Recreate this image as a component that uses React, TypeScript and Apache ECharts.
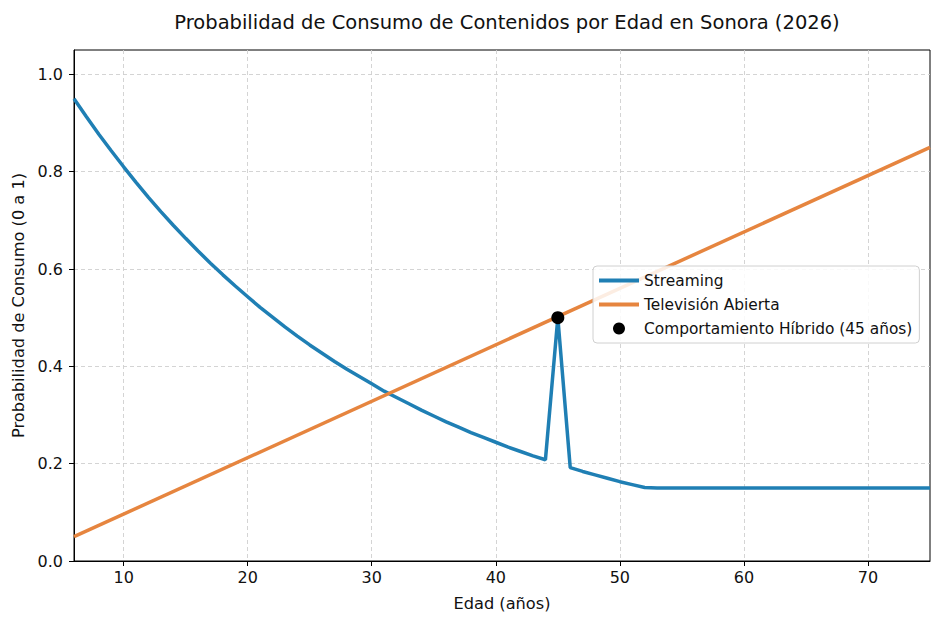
import React, { useEffect, useRef } from "react";
import * as echarts from "echarts";

const ages: number[] = [
  6, 7, 8, 9, 10, 11, 12, 13, 14, 15, 16, 17, 18, 19, 20, 21, 22, 23, 24, 25,
  26, 27, 28, 29, 30, 31, 32, 33, 34, 35, 36, 37, 38, 39, 40, 41, 42, 43, 44,
  45, 46, 47, 48, 49, 50, 51, 52, 53, 54, 55, 56, 57, 58, 59, 60, 61, 62, 63,
  64, 65, 66, 67, 68, 69, 70, 71, 72, 73, 74, 75,
];

const streaming: number[] = [
  0.95, 0.913, 0.877, 0.843, 0.81, 0.778, 0.747, 0.718, 0.69, 0.663, 0.637,
  0.612, 0.588, 0.565, 0.543, 0.521, 0.501, 0.481, 0.462, 0.444, 0.427, 0.41,
  0.394, 0.379, 0.364, 0.349, 0.336, 0.323, 0.31, 0.298, 0.286, 0.275, 0.264,
  0.254, 0.244, 0.234, 0.225, 0.216, 0.208, 0.5, 0.192, 0.184, 0.177, 0.17,
  0.163, 0.157, 0.151, 0.15, 0.15, 0.15, 0.15, 0.15, 0.15, 0.15, 0.15, 0.15,
  0.15, 0.15, 0.15, 0.15, 0.15, 0.15, 0.15, 0.15, 0.15, 0.15, 0.15, 0.15, 0.15,
  0.15,
];

const tvAges: number[] = [6, 75];
const tvValues: number[] = [0.05, 0.85];

const hybridAge: number[] = [45];
const hybridValue: number[] = [0.5];

const xTicks: number[] = [10, 20, 30, 40, 50, 60, 70];
const yTicks: number[] = [0, 0.2, 0.4, 0.6, 0.8, 1.0];

const TITLE = "Probabilidad de Consumo de Contenidos por Edad en Sonora (2026)";
const SERIES_NAMES = [
  "Streaming",
  "Televisión Abierta",
  "Comportamiento Híbrido (45 años)",
];

const BLUE = "#1f7fb4";
const ORANGE = "#e6853f";
const FONT = "DejaVu Sans";
const LINE_ICON = "path://M0,0H40V4H0Z";

export default function App() {
  const ref = useRef<HTMLDivElement>(null);

  useEffect(() => {
    if (!ref.current) return;
    const chart = echarts.init(ref.current, undefined, { renderer: "svg" });
    const textColor = "#111111";
    chart.setOption({
      animation: false,
      backgroundColor: "#ffffff",
      textStyle: { fontFamily: FONT },
      title: {
        text: TITLE,
        left: 502,
        textAlign: "center",
        top: 7,
        textStyle: {
          fontFamily: FONT,
          fontSize: 19.5,
          fontWeight: "normal",
          color: textColor,
        },
      },
      grid: {
        left: 74,
        right: 10,
        top: 50,
        bottom: 62,
        show: true,
        borderColor: "#000",
        borderWidth: 1,
        backgroundColor: "transparent",
      },
      legend: {
        orient: "vertical",
        left: 593,
        top: 266,
        padding: [7, 7, 7, 6],
        itemGap: 9,
        itemWidth: 40,
        itemHeight: 12,
        itemTextGap: 10,
        backgroundColor: "rgba(255,255,255,0.85)",
        borderColor: "#d0d0d0",
        borderWidth: 1,
        borderRadius: 4,
        itemStyle: { borderWidth: 0 },
        textStyle: { fontFamily: FONT, fontSize: 15.4, color: textColor },
        data: [
          { name: SERIES_NAMES[0], icon: LINE_ICON },
          { name: SERIES_NAMES[1], icon: LINE_ICON },
          { name: SERIES_NAMES[2], icon: "circle" },
        ],
      },
      xAxis: {
        type: "value",
        min: 6,
        max: 75,
        name: "Edad (años)",
        nameLocation: "middle",
        nameGap: 34,
        nameTextStyle: { fontFamily: FONT, fontSize: 16.2, color: textColor },
        axisLine: { show: true, lineStyle: { color: "#000", width: 1 } },
        axisTick: {
          show: true,
          inside: false,
          length: 5,
          lineStyle: { color: "#000" },
          customValues: xTicks,
        },
        axisLabel: {
          fontFamily: FONT,
          fontSize: 16,
          color: textColor,
          margin: 8,
          customValues: xTicks,
        },
        splitLine: {
          show: true,
          lineStyle: { color: "#cfcfcf", type: [4, 3], width: 0.9 },
        },
      },
      yAxis: {
        type: "value",
        min: 0,
        max: 1.05,
        name: "Probabilidad de Consumo (0 a 1)",
        nameLocation: "middle",
        nameGap: 46,
        nameTextStyle: { fontFamily: FONT, fontSize: 16.2, color: textColor },
        axisLine: { show: true, lineStyle: { color: "#000", width: 1 } },
        axisTick: {
          show: true,
          inside: false,
          length: 5,
          lineStyle: { color: "#000" },
          customValues: yTicks,
        },
        axisLabel: {
          fontFamily: FONT,
          fontSize: 16,
          color: textColor,
          margin: 11,
          customValues: yTicks,
          formatter: (v: number) => v.toFixed(1),
        },
        splitLine: {
          show: true,
          lineStyle: { color: "#cfcfcf", type: [4, 3], width: 0.9 },
        },
      },
      series: [
        {
          name: SERIES_NAMES[0],
          type: "line",
          data: ages.map((a, i) => [a, streaming[i]]),
          showSymbol: false,
          symbol: "none",
          color: BLUE,
          itemStyle: { color: BLUE, borderWidth: 0 },
          lineStyle: { width: 3.5, color: BLUE },
          z: 2,
        },
        {
          name: SERIES_NAMES[1],
          type: "line",
          data: tvAges.map((a, i) => [a, tvValues[i]]),
          showSymbol: false,
          symbol: "none",
          color: ORANGE,
          itemStyle: { color: ORANGE, borderWidth: 0 },
          lineStyle: { width: 3.5, color: ORANGE },
          z: 2,
        },
        {
          name: SERIES_NAMES[2],
          type: "scatter",
          data: hybridAge.map((a, i) => [a, hybridValue[i]]),
          symbol: "circle",
          symbolSize: 13,
          itemStyle: { color: "#000", opacity: 1 },
          z: 5,
        },
      ],
    });
    return () => chart.dispose();
  }, []);

  return (
    <div
      ref={ref}
      style={{ position: "fixed", left: 0, top: 0, width: 940, height: 623 }}
    />
  );
}
